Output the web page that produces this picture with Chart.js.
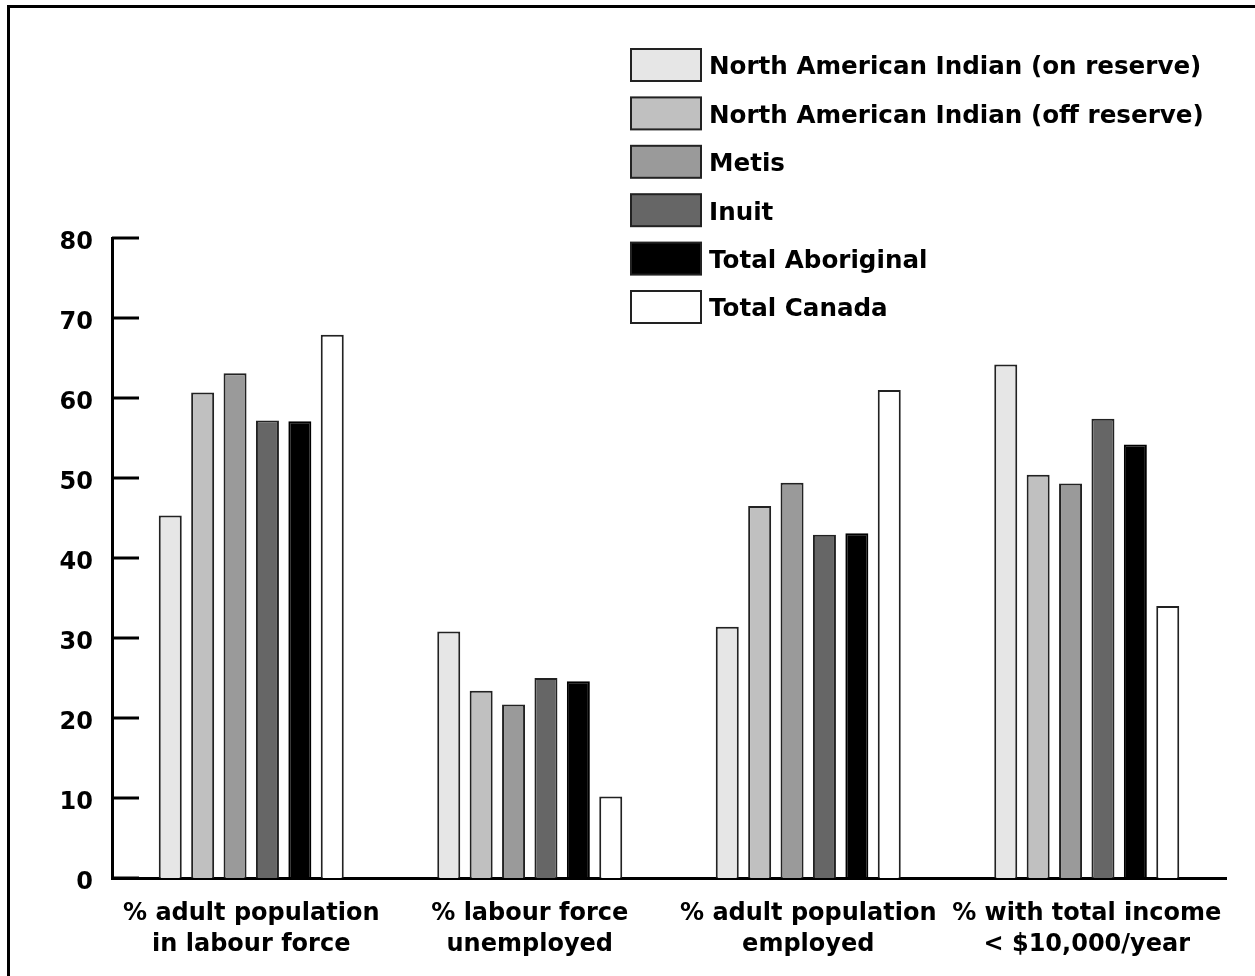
<!DOCTYPE html>
<html>
<head>
<meta charset="utf-8">
<script src="https://cdn.jsdelivr.net/npm/chart.js@4.4.0/dist/chart.umd.min.js"></script>
<style>
  html, body { margin: 0; padding: 0; background: #fff; }
  #wrap { position: relative; width: 1255px; height: 976px; }
  #frame { position: absolute; left: 7px; top: 5px; right: 0; bottom: 0;
           border-top: 3px solid #000; border-left: 3px solid #000; pointer-events: none; }
  canvas { position: absolute; left: 0; top: 0; }
</style>
</head>
<body>
<div id="wrap">
  <canvas id="grafico" width="1255" height="976"></canvas>
  <div id="frame"></div>
</div>
<script>
// Categorias (eixo x)
const categorias = [
    ['% adult population', 'in labour force'],
    ['% labour force', 'unemployed'],
    ['% adult population', 'employed'],
    ['% with total income', '< $10,000/year']
];

// Séries
const nomesSeries = [
    'North American Indian (on reserve)',
    'North American Indian (off reserve)',
    'Metis',
    'Inuit',
    'Total Aboriginal',
    'Total Canada'
];
const indioNaReserva = [45.3, 30.8, 31.4, 64.2];
const indioForaReserva = [60.7, 23.4, 46.5, 50.4];
const metis = [63.1, 21.7, 49.4, 49.3];
const inuit = [57.2, 25.0, 42.9, 57.4];
const totalAborigene = [57.1, 24.6, 43.1, 54.2];
const totalCanada = [67.9, 10.2, 61.0, 34.0];

const valoresSeries = [indioNaReserva, indioForaReserva, metis, inuit, totalAborigene, totalCanada];
const coresSeries = ['#e6e6e6', '#c0c0c0', '#9a9a9a', '#666666', '#000000', '#ffffff'];

// Eixo y
const Y_MIN = 0;
const Y_MAX = 80;
const Y_PASSO = 10;

const FONTE = '"DejaVu Sans", sans-serif';

// Marcas do eixo y desenhadas para dentro
const marcasInternas = {
    id: 'marcasInternas',
    afterDraw(chart) {
        const ctx = chart.ctx;
        const escala = chart.scales.y;
        ctx.save();
        ctx.strokeStyle = '#000';
        ctx.lineWidth = 3;
        escala.ticks.forEach(t => {
            const y = escala.getPixelForValue(t.value);
            ctx.beginPath();
            ctx.moveTo(escala.right, y);
            ctx.lineTo(escala.right + 27, y);
            ctx.stroke();
        });
        ctx.restore();
    }
};

// Legenda desenhada sobre a área do gráfico
const legendaCaixas = {
    id: 'legendaCaixas',
    afterDraw(chart) {
        const ctx = chart.ctx;
        ctx.save();
        chart.data.datasets.forEach((ds, i) => {
            const x = 631, y = 49 + i * 48.4, w = 70, h = 32;
            ctx.fillStyle = ds.backgroundColor;
            ctx.fillRect(x, y, w, h);
            ctx.strokeStyle = '#222';
            ctx.lineWidth = 2;
            ctx.strokeRect(x, y, w, h);
            ctx.fillStyle = '#000';
            ctx.font = 'bold 24.6px ' + FONTE;
            ctx.textBaseline = 'middle';
            ctx.textAlign = 'left';
            ctx.fillText(ds.label, 709, y + h / 2 + 3);
        });
        ctx.restore();
    }
};

const ctx = document.getElementById('grafico').getContext('2d');
const grafico = new Chart(ctx, {
    type: 'bar',
    data: {
        labels: categorias,
        datasets: valoresSeries.map((valores, i) => ({
            label: nomesSeries[i],
            data: valores,
            backgroundColor: coresSeries[i],
            borderColor: i === 4 ? '#000' : '#222',
            borderWidth: 2,
            barPercentage: 0.71,
            categoryPercentage: 0.698
        }))
    },
    options: {
        responsive: false,
        animation: false,
        devicePixelRatio: 1,
        layout: {
            padding: { top: 238, right: 29, bottom: 0, left: 0 }
        },
        plugins: {
            legend: { display: false },
            tooltip: { enabled: false }
        },
        scales: {
            x: {
                grid: { display: false, drawTicks: false },
                border: { display: true, color: '#000', width: 3 },
                ticks: {
                    color: '#000',
                    padding: 20,
                    font: { family: FONTE, weight: 'bold', size: 24, lineHeight: 1.3 },
                    maxRotation: 0
                },
                afterFit(escala) { escala.height = 98; }
            },
            y: {
                min: Y_MIN,
                max: Y_MAX,
                grid: { display: false, drawTicks: false },
                border: { display: true, color: '#000', width: 3 },
                ticks: {
                    stepSize: Y_PASSO,
                    color: '#000',
                    padding: 19,
                    labelOffset: 5,
                    font: { family: FONTE, weight: 'bold', size: 24 }
                },
                afterFit(escala) { escala.width = 112; }
            }
        }
    },
    plugins: [marcasInternas, legendaCaixas]
});
</script>
</body>
</html>
